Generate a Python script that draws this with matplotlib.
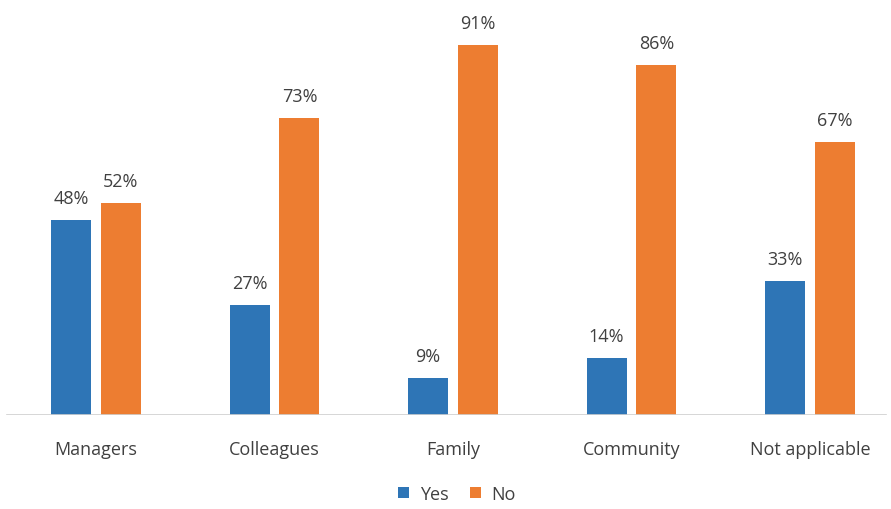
import matplotlib
matplotlib.use("Agg")
import matplotlib.pyplot as plt
import numpy as np

categories = ["Managers", "Colleagues", "Family", "Community", "Not applicable"]
yes_values = [48, 27, 9, 14, 33]
no_values = [52, 73, 91, 86, 67]
series_names = ["Yes", "No"]

BLUE = "#2E75B6"
ORANGE = "#ED7D31"
TEXT = "#404040"

plt.rcParams['font.family'] = ['Open Sans', 'DejaVu Sans']

W, H = 891, 510
fig = plt.figure(figsize=(W/100, H/100), dpi=100)
ax = fig.add_axes([0, (H-416)/H, 1, 408/H])

x = np.arange(len(categories))
bw = 0.224
off = 0.14
b1 = ax.bar(x - off, yes_values, bw, color=BLUE, label=series_names[0], zorder=2)
b2 = ax.bar(x + off, no_values, bw, color=ORANGE, label=series_names[1], zorder=2)

for bars, vals in ((b1, yes_values), (b2, no_values)):
    for r, v in zip(bars, vals):
        ax.text(r.get_x() + r.get_width()/2, v + 3.2, f"{v}%", ha="center", va="bottom",
                fontsize=13, color=TEXT)

ax.set_xlim(-96/178.5, (W-96)/178.5)
ax.set_ylim(0, 100.3)
for s in ax.spines.values():
    s.set_visible(False)
ax.set_yticks([])
ax.set_xticks(x)
ax.set_xticklabels(categories, fontsize=13, color=TEXT)
ax.tick_params(axis="x", length=0, pad=18)
ax.axhline(0, xmin=7/W, xmax=886/W, color="#D0D0D0", lw=1.2, zorder=3)

leg = fig.legend(handles=[b1, b2], labels=series_names, loc="center", bbox_to_anchor=(457/W, 1-495/H),
                 ncol=2, frameon=False, fontsize=13, handlelength=0.6, handleheight=0.6,
                 handletextpad=0.6, columnspacing=1.2, labelcolor=TEXT)

fig.savefig("out.png", dpi=100)
